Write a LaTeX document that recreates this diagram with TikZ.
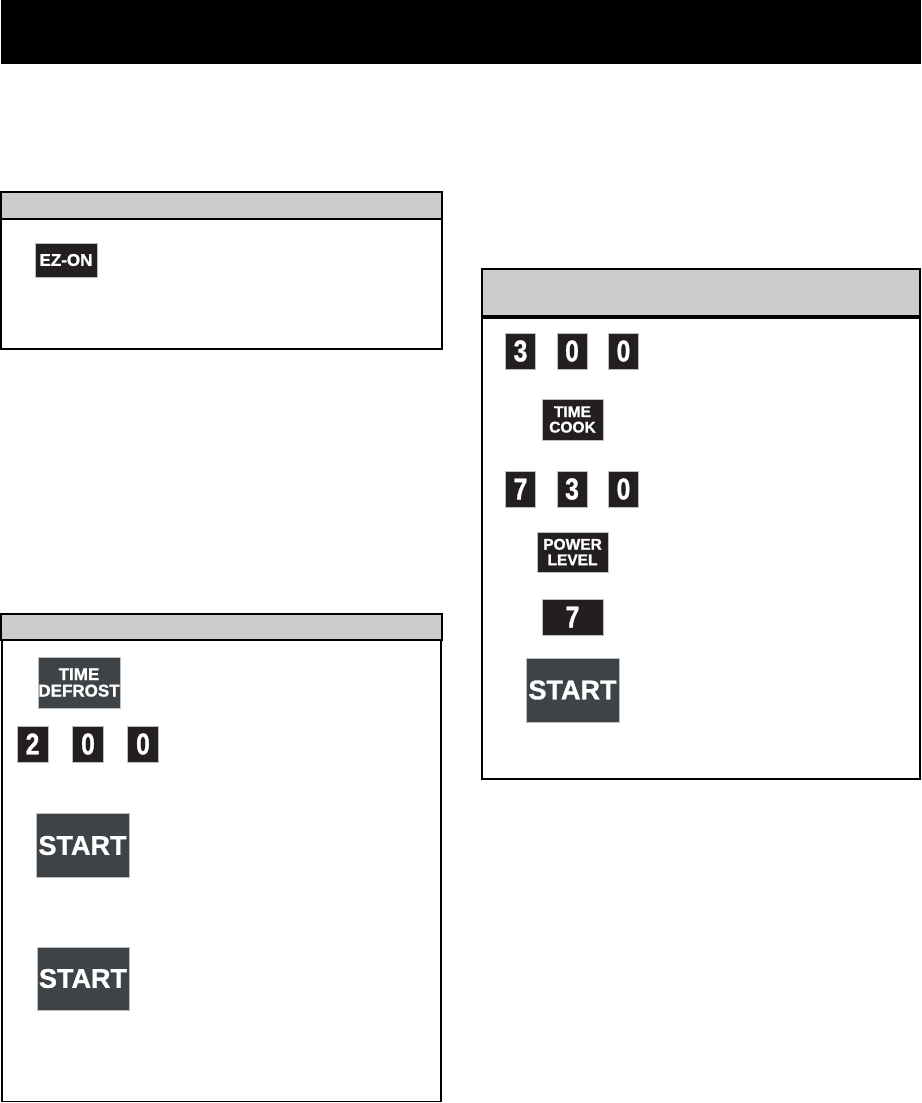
\documentclass[tikz,border=0pt]{standalone}
\usepackage{fontspec}
\usepackage{graphicx}
\newfontfamily\btnfont{Liberation Sans}[UprightFont={* Bold}, FakeBold=1.2]
\definecolor{keyblack}{HTML}{231F20}
\definecolor{keygray}{HTML}{3D4346}
\definecolor{headgray}{HTML}{CCCCCC}
\newcommand{\dg}[1]{\scalebox{0.82}[1]{#1}}
\tikzset{
  key/.style={rectangle, inner sep=0pt, text=white, align=center, draw=black!25, line width=0.6pt},
  blackkey/.style={key, fill=keyblack},
  graykey/.style={key, fill=keygray},
  smallfont/.style={font=\btnfont\fontsize{15.5}{15.5}\selectfont},
  largefont/.style={font=\btnfont\fontsize{17}{16.5}\selectfont},
  digitkey/.style={blackkey, minimum width=31pt, minimum height=36pt, font=\btnfont\fontsize{30}{30}\selectfont},
  startkey/.style={graykey, minimum width=93pt, minimum height=64pt, font=\btnfont\fontsize{27}{27}\selectfont},
  panel/.style={draw=black, line width=1.8pt},
  panelhead/.style={panel, fill=headgray}
}
\begin{document}
\begin{tikzpicture}[x=1pt, y=-1pt]
  \useasboundingbox (0,0) rectangle (921,1103);
  % title bar
  \fill[black] (1,0) rectangle (921,64);

  % panel 1
  \draw[panelhead] (1,192) rectangle (442,219);
  \draw[panel] (1,219) rectangle (442,349);
  \node[blackkey, largefont, minimum width=62pt, minimum height=34pt] (ezon) at (66,260) {EZ-ON};

  % panel 2
  \draw[panelhead] (1,614) rectangle (442,640);
  \draw[panel] (2,640) rectangle (441,1101.5);
  \node[graykey, largefont, minimum width=82pt, minimum height=51pt] (tdef) at (79,682.5) {TIME\\DEFROST};
  \node[digitkey] (dA) at (32.5,744) {\dg{2}};
  \node[digitkey] (dB) at (88,744) {\dg{0}};
  \node[digitkey] (dC) at (143,744) {\dg{0}};
  \node[startkey] (startA) at (82.5,845.5) {START};
  \node[startkey, minimum width=92pt, minimum height=63pt] (startB) at (83,978.5) {START};

  % panel 3
  \draw[panelhead] (482,269) rectangle (920,316);
  \draw[panel] (482,318) rectangle (920,779);
  \node[digitkey, minimum width=30pt] (eA) at (520.5,351) {\dg{3}};
  \node[digitkey, minimum width=30pt] (eB) at (572,351) {\dg{0}};
  \node[digitkey, minimum width=30pt] (eC) at (623.5,351) {\dg{0}};
  \node[blackkey, smallfont, minimum width=61pt, minimum height=41pt] (tcook) at (572.5,419.5) {TIME\\COOK};
  \node[digitkey, minimum width=30pt] (fA) at (520.5,489) {\dg{7}};
  \node[digitkey, minimum width=30pt] (fB) at (572,489) {\dg{3}};
  \node[digitkey, minimum width=30pt] (fC) at (623.5,489) {\dg{0}};
  \node[blackkey, smallfont, minimum width=71pt, minimum height=40pt] (plevel) at (572.5,552) {POWER\\LEVEL};
  \node[digitkey, minimum width=61pt] (seven) at (572.5,617) {\dg{7}};
  \node[startkey] (startC) at (572.5,690) {START};
\end{tikzpicture}
\end{document}
